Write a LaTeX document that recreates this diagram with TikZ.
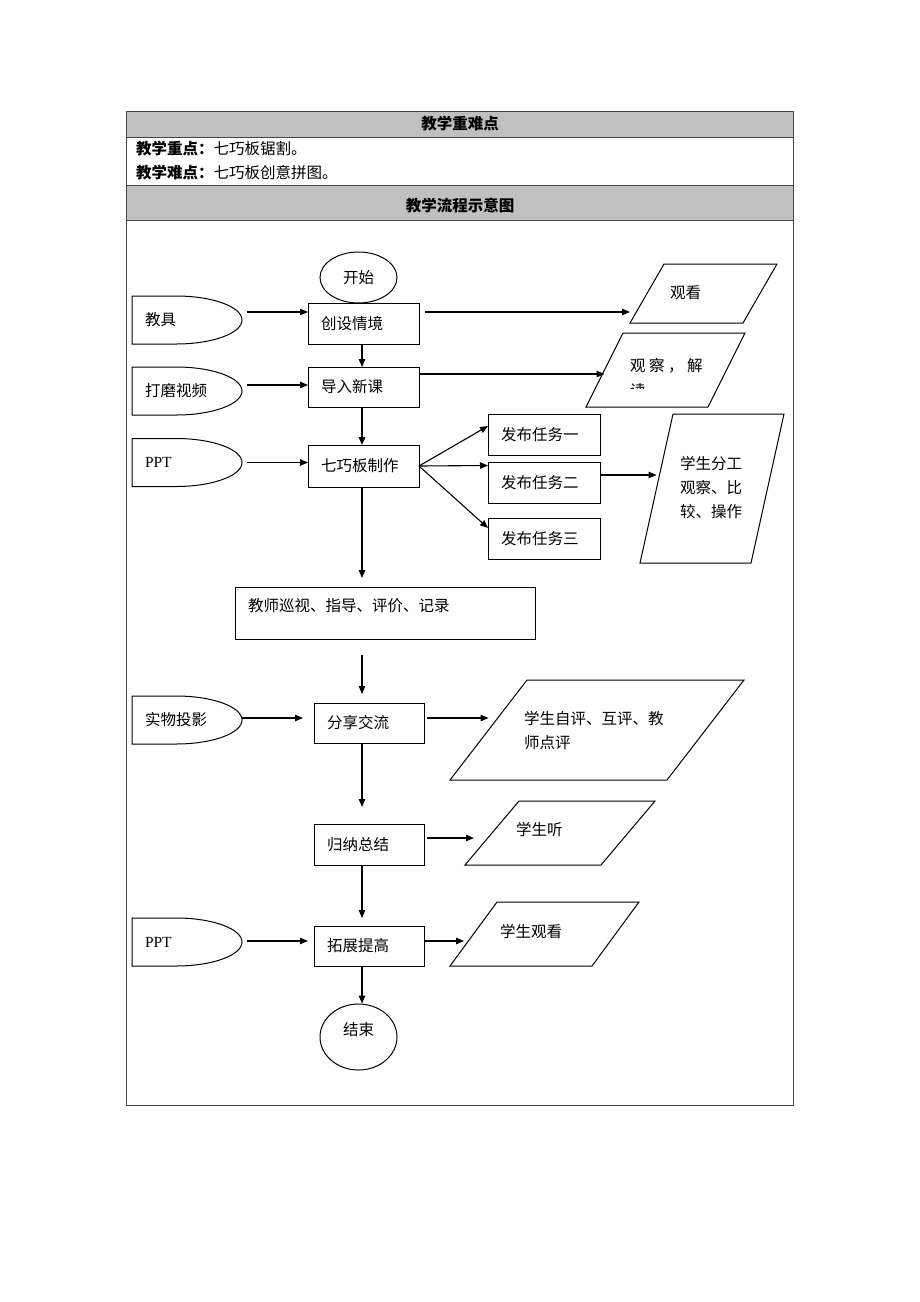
\documentclass[tikz,border=0pt]{standalone}
\usepackage{fontspec}
\setmainfont{Liberation Serif}
\newfontfamily\cjk{Noto Sans CJK SC}
\usetikzlibrary{arrows.meta,shapes.geometric}

\definecolor{hdrgray}{RGB}{192,192,192}
\definecolor{rulegray}{RGB}{70,70,70}

\begin{document}
\begin{tikzpicture}[x=1pt,y=1pt,
  every node/.style={font=\cjk\fontsize{15.5}{24}\selectfont},
  tbl/.style={draw=rulegray,line width=0.9},
  proc/.style={draw,rectangle,inner xsep=13,inner ysep=0,align=left,outer sep=0,line width=1},
  src/.style={rectangle,minimum width=110,minimum height=48,text width=84,inner xsep=13,inner ysep=0,align=left,outer sep=0},
  io/.style={draw,rectangle,inner sep=0,outer sep=0,line width=1},
  iotext/.style={anchor=west,inner sep=0,align=left},
  term/.style={draw,ellipse,minimum width=77,inner sep=0,line width=1},
  arr/.style={-{Triangle[length=8,width=6.5]},line width=1.1}]
  \useasboundingbox (0,0) rectangle (920,-1302);

  % table
  \draw[tbl,fill=hdrgray] (126,-111) rectangle (793,-137);
  \draw[tbl] (126,-137) rectangle (793,-185);
  \draw[tbl,fill=hdrgray] (126,-185) rectangle (793,-220);
  \draw[tbl] (126,-220) rectangle (793,-1105);
  \node (zhongnan) at (460,-124) {\bfseries 教学重难点};
  \node[anchor=west,inner sep=0] (zhongdian) at (136,-149) {\textbf{教学重点：}七巧板锯割。};
  \node[anchor=west,inner sep=0] (nandian) at (136,-173) {\textbf{教学难点：}七巧板创意拼图。};
  \node (liucheng) at (460,-206) {\bfseries 教学流程示意图};

  % main column
  \node[term,minimum height=51] (kaishi) at (358.5,-277.5) {开始};
  \node[proc,minimum width=111,minimum height=41,text width=85] (chuangshe) at (363.5,-323.5) {创设情境};
  \node[proc,minimum width=111,minimum height=40,text width=85] (daoru) at (363.5,-387) {导入新课};
  \node[proc,minimum width=111,minimum height=42,text width=85] (zhizuo) at (363.5,-466) {七巧板制作};
  \node[proc,minimum width=300,minimum height=52,text width=274,text depth=16] (xunshi) at (385,-613) {教师巡视、指导、评价、记录};
  \node[proc,minimum width=110,minimum height=40,text width=84] (fenxiang) at (369,-723) {分享交流};
  \node[proc,minimum width=110,minimum height=41,text width=84] (guina) at (369,-844.5) {归纳总结};
  \node[proc,minimum width=110,minimum height=40,text width=84] (tuozhan) at (369,-946) {拓展提高};
  \node[term,minimum height=66,text depth=16] (jieshu) at (358.5,-1037) {结束};

  % tasks
  \node[proc,minimum width=112,minimum height=41,text width=86] (renwu1) at (544,-434.5) {发布任务一};
  \node[proc,minimum width=112,minimum height=41,text width=86] (renwu2) at (544,-482.5) {发布任务二};
  \node[proc,minimum width=112,minimum height=41,text width=86] (renwu3) at (544,-538.5) {发布任务三};

  % media
  \node[src] (jiaoju) at (187,-320) {教具};
  \node[src] (damo) at (187,-391) {打磨视频};
  \node[src] (ppta) at (187,-462.5) {\rmfamily PPT};
  \node[src] (shiwu) at (187,-720) {实物投影};
  \node[src] (pptb) at (187,-942) {\rmfamily PPT};
  \foreach \n in {jiaoju,damo,ppta,shiwu,pptb}
    \draw[line width=1] (\n.north west) -- ++(44,0) arc[start angle=90,end angle=-90,x radius=66,y radius=24] -- (\n.south west) -- cycle;

  % student activities
  \node[io,minimum width=113,minimum height=59,xslant=0.576] (guankan) at (703.5,-293.5) {};
  \node[iotext] (guankan-t) at (670,-293) {观看};
  \node[io,minimum width=122,minimum height=74,xslant=0.5] (jiedu) at (665.5,-370) {};
  \node[iotext] (jiedu-t) at (630,-366) {观\hspace{3.5pt}察\hspace{3.5pt}，\hspace{3.5pt}解};
  \begin{scope}
    \clip (600,-380) rectangle (700,-388);
    \node[anchor=base west,inner sep=0] (du) at (630,-396.5) {读};
  \end{scope}
  \node[io,minimum width=111,minimum height=149,xslant=0.2215] (fengong) at (712,-488.5) {};
  \node[iotext] (fengong-t) at (680,-488) {学生分工\\观察、比\\较、操作};
  \node[io,minimum width=217,minimum height=100,xslant=0.77] (ziping) at (597,-730) {};
  \node[iotext] (ziping-t) at (524,-730.5) {学生自评、互评、教\\师点评};
  \node[io,minimum width=136,minimum height=64,xslant=0.844] (ting) at (560,-833) {};
  \node[iotext] (ting-t) at (516,-830) {学生听};
  \node[io,minimum width=142,minimum height=64,xslant=0.734] (kan) at (544.5,-934) {};
  \node[iotext] (kan-t) at (500,-932) {学生观看};

  % flow
  \coordinate (spine) at (362,0);
  \draw[arr] (chuangshe.south -| spine) -- (daoru.north -| spine);
  \draw[arr,line width=1.8] (daoru.south -| spine) -- (zhizuo.north -| spine);
  \draw[arr,shorten >=9] (zhizuo.south -| spine) -- (xunshi.north -| spine);
  \draw[arr,shorten <=16,shorten >=9] (xunshi.south -| spine) -- (fenxiang.north -| spine);
  \draw[arr,shorten >=17] (fenxiang.south -| spine) -- (guina.north -| spine);
  \draw[arr,shorten >=8] (guina.south -| spine) -- (tuozhan.north -| spine);
  \draw[arr] (tuozhan.south -| spine) -- (jieshu.north -| spine);

  % media to steps
  \draw[arr] ([xshift=5,yshift=8]jiaoju.east) -- ([yshift=8]jiaoju.east -| chuangshe.west);
  \draw[arr] ([xshift=5,yshift=6]damo.east) -- ([yshift=6]damo.east -| daoru.west);
  \draw[arr] ([xshift=5]ppta.east) -- (ppta.east -| zhizuo.west);
  \draw[arr,shorten >=11] ([yshift=2]shiwu.east) -- ([yshift=2]shiwu.east -| fenxiang.west);
  \draw[arr,shorten >=6] ([xshift=5,yshift=1]pptb.east) -- ([yshift=1]pptb.east -| tuozhan.west);

  % steps to activities
  \draw[arr] ([xshift=6,yshift=11.5]chuangshe.east) -- ([yshift=11.5]chuangshe.east -| guankan.south west);
  \draw[arr] ([yshift=13]daoru.east) -- ([yshift=13]daoru.east -| jiedu.west);
  \draw[arr] (zhizuo.east) -- ([yshift=8.5]renwu1.west);
  \draw[arr] (zhizuo.east) -- ([yshift=17]renwu2.west);
  \draw[arr] (zhizuo.east) -- ([yshift=10.5]renwu3.west);
  \draw[arr] ([yshift=7.5]renwu2.east) -- ([yshift=7.5]renwu2.east -| fengong.west);
  \draw[arr] ([xshift=3,yshift=5]fenxiang.east) -- ([yshift=5]fenxiang.east -| ziping.west);
  \draw[arr,shorten >=18] ([xshift=3,yshift=6.5]guina.east) -- ([yshift=6.5]guina.east -| ting.west);
  \draw[arr,shorten >=9.5] ([yshift=5]tuozhan.east) -- ([yshift=5]tuozhan.east -| kan.west);
\end{tikzpicture}
\end{document}
